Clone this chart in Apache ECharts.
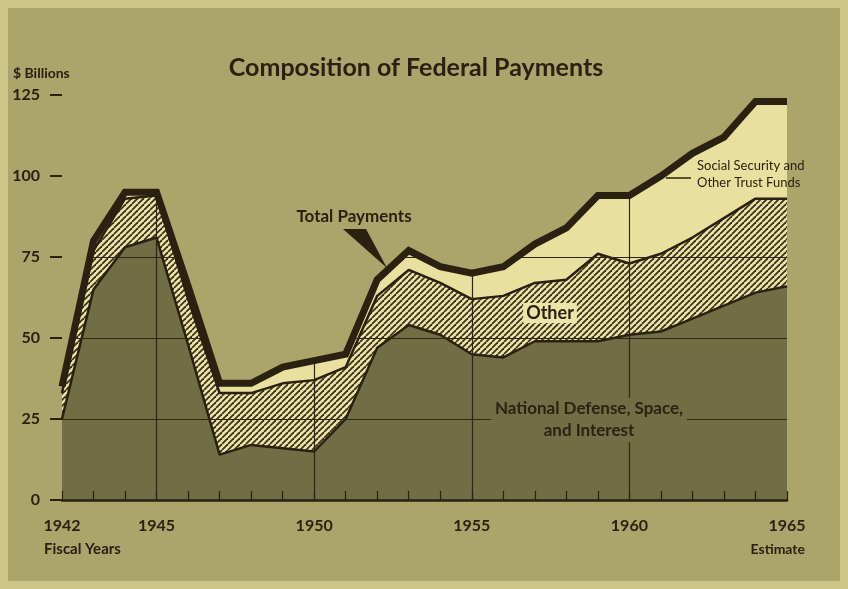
<!DOCTYPE html>
<html>
<head>
<meta charset="utf-8">
<script src="https://cdn.jsdelivr.net/npm/echarts@6/dist/echarts.min.js"></script>
<style>
  html, body { margin: 0; padding: 0; background: #aba46b; }
  #chart { width: 848px; height: 589px; }
</style>
</head>
<body>
<div id="chart"></div>
<script>
// fiscal years and $ billions
const years = ['1942','1943','1944','1945','1946','1947','1948','1949','1950','1951','1952','1953',
               '1954','1955','1956','1957','1958','1959','1960','1961','1962','1963','1964','1965']
const defense = [25, 65, 78, 81, 48, 14, 17, 16, 15, 25, 47, 54, 51, 45, 44, 49, 49, 49, 51, 52, 56, 60, 64, 66]
const other   = [ 8, 12, 15, 13, 14, 19, 16, 20, 22, 16, 16, 17, 16, 17, 19, 18, 19, 27, 22, 24, 25, 27, 29, 27]
const trust   = [ 2,  3,  2,  1,  4,  3,  3,  5,  6,  4,  5,  6,  5,  8,  9, 12, 16, 18, 21, 24, 26, 25, 30, 30]
const yTicks = [0, 25, 50, 75, 100, 125]
const labelYears = ['1942', '1945', '1950', '1955', '1960', '1965']
const gridYears = ['1945', '1950', '1955', '1960']

const total = years.map((_, i) => defense[i] + other[i] + trust[i])
const yMax = yTicks[yTicks.length - 1]
const cover = total.map(t => yMax - t)

const ink = '#2a2111'
const bg = '#aba46b'
const dark = '#716d45'
const cream = '#e9e09f'
const font = 'Lato, "Noto Sans", sans-serif'

// diagonal hatch for "Other"
function hatch() {
  const c = document.createElement('canvas')
  c.width = 6; c.height = 6
  const g = c.getContext('2d')
  g.fillStyle = '#ece4a8'
  g.fillRect(0, 0, 6, 6)
  g.strokeStyle = '#3a311b'
  g.lineWidth = 1.8
  for (let i = -6; i <= 6; i += 6) {
    g.beginPath()
    g.moveTo(i, 6)
    g.lineTo(i + 6, 0)
    g.stroke()
  }
  return c
}

const chart = echarts.init(document.getElementById('chart'), null, { renderer: 'canvas' })

chart.setOption({
  backgroundColor: bg,
  animation: false,
  grid: { left: 62, right: 61, top: 95, bottom: 89 },
  xAxis: {
    type: 'category',
    data: years,
    boundaryGap: false,
    z: 3,
    axisLine: { lineStyle: { color: ink, width: 2.5 } },
    axisTick: { show: true, inside: true, length: 9, interval: 0, lineStyle: { color: ink, width: 1.2 } },
    axisLabel: {
      interval: (i, v) => labelYears.includes(v),
      margin: 18,
      color: ink,
      fontFamily: font,
      fontWeight: 'bold',
      fontSize: 16,
    },
    splitLine: {
      show: true,
      interval: (i, v) => gridYears.includes(v),
      lineStyle: { color: '#2e2714', width: 1.2 },
    },
  },
  yAxis: {
    type: 'value',
    min: 0, max: yMax, interval: 25,
    z: 3,
    axisLine: { show: false },
    axisTick: { show: true, length: 12, lineStyle: { color: ink, width: 2 } },
    axisLabel: {
      margin: 22,
      color: ink,
      fontFamily: font,
      fontWeight: 'bold',
      fontSize: 16,
    },
    splitLine: {
      show: true,
      lineStyle: { color: ['rgba(0,0,0,0)', '#2e2714', '#2e2714', '#2e2714', 'rgba(0,0,0,0)', 'rgba(0,0,0,0)'], width: 1.2 },
    },
  },
  series: [
    {
      name: 'National Defense, Space, and Interest',
      type: 'line', stack: 'all', symbol: 'none', z: 2,
      data: defense,
      lineStyle: { color: ink, width: 2.5 },
      areaStyle: { color: dark, opacity: 1 },
    },
    {
      name: 'Other',
      type: 'line', stack: 'all', symbol: 'none', z: 2,
      data: other,
      lineStyle: { color: ink, width: 2.5 },
      areaStyle: { color: { image: hatch(), repeat: 'repeat' }, opacity: 1 },
    },
    {
      name: 'Social Security and Other Trust Funds',
      type: 'line', stack: 'all', symbol: 'none', z: 2,
      data: trust,
      lineStyle: { width: 0 },
      areaStyle: { color: cream, opacity: 1 },
    },
    {
      // hides the grid lines above the total
      name: 'cover',
      type: 'line', stack: 'all', symbol: 'none', z: 4,
      data: cover,
      lineStyle: { width: 0 },
      areaStyle: { color: bg, opacity: 1 },
    },
    {
      name: 'Total Payments',
      type: 'line', symbol: 'none', z: 5,
      data: total,
      lineStyle: { color: ink, width: 7, join: 'miter', cap: 'butt' },
    },
  ],
  graphic: [
    { type: 'rect', z: 10, shape: { x: 4, y: 4, width: 840, height: 581 },
      style: { fill: 'none', stroke: '#cdc587', lineWidth: 8 } },
    { type: 'text', z: 10, x: 416, y: 68,
      style: { text: 'Composition of Federal Payments', fill: ink, font: 'bold 25px ' + font,
               textAlign: 'center', textVerticalAlign: 'middle' } },
    { type: 'text', z: 10, x: 13, y: 73,
      style: { text: '$ Billions', fill: ink, font: 'bold 14px ' + font, textVerticalAlign: 'middle' } },
    { type: 'text', z: 10, x: 44, y: 549,
      style: { text: 'Fiscal Years', fill: ink, font: 'bold 15px ' + font, textVerticalAlign: 'middle' } },
    { type: 'text', z: 10, x: 805, y: 549,
      style: { text: 'Estimate', fill: ink, font: 'bold 14px ' + font, textAlign: 'right', textVerticalAlign: 'middle' } },
    { type: 'text', z: 10, x: 354, y: 217,
      style: { text: 'Total Payments', fill: ink, font: 'bold 17px ' + font, textAlign: 'center', textVerticalAlign: 'middle' } },
    { type: 'polygon', z: 10, shape: { points: [[343, 229], [366, 229], [387, 268]] }, style: { fill: ink } },
    { type: 'text', z: 10, x: 697, y: 174,
      style: { text: 'Social Security and\nOther Trust Funds', fill: ink, font: '13px ' + font,
               lineHeight: 17, textVerticalAlign: 'middle' } },
    { type: 'line', z: 10, shape: { x1: 666, y1: 178, x2: 691, y2: 178 }, style: { stroke: ink, lineWidth: 1.5 } },
    { type: 'text', z: 10, x: 550, y: 313,
      style: { text: 'Other', fill: ink, font: 'bold 18px ' + font, textAlign: 'center', textVerticalAlign: 'middle',
               backgroundColor: '#ece4a8', padding: [1, 3] } },
    { type: 'text', z: 10, x: 589, y: 420,
      style: { text: 'National Defense, Space,\nand Interest', fill: '#2a2312', font: 'bold 17px ' + font,
               lineHeight: 22, textAlign: 'center', textVerticalAlign: 'middle',
               backgroundColor: dark, padding: [0, 4] } },
  ],
})
</script>
</body>
</html>
